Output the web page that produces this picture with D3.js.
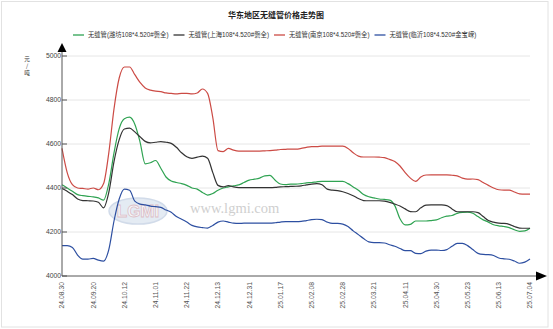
<!DOCTYPE html>
<html><head><meta charset="utf-8">
<script src="https://cdn.jsdelivr.net/npm/d3@7"></script>
<style>
html,body{margin:0;padding:0;background:#fff;}
svg{display:block;font-family:"Liberation Sans","Noto Sans CJK SC",sans-serif;}
</style></head>
<body><svg id="chart" width="553" height="329"></svg>
<script>
const title = "华东地区无缝管价格走势图";
const yLabel = ["元","/","吨"];
const tickLabels = ["24.08.30","24.09.20","24.10.12","24.11.01","24.11.22","24.12.13","24.12.31","25.01.17","25.02.08","25.02.28","25.03.21","25.04.11","25.04.30","25.05.23","25.06.13","25.07.04"];
const yTicks = [4000,4200,4400,4600,4800,5000];
const seriesNames = ["无缝管(潍坊108*4.520#磐全)","无缝管(上海108*4.520#磐全)","无缝管(南京108*4.520#磐全)","无缝管(临沂108*4.520#金宝嵘)"];
const seriesColors = ["#2fa352","#333333","#cc4b45","#2d4fa1"];

const weifang = [4415,4400,4385,4370,4365,4362,4360,4355,4345,4420,4560,4670,4715,4722,4690,4610,4510,4515,4525,4490,4450,4432,4425,4420,4412,4400,4395,4380,4368,4375,4390,4400,4405,4410,4414,4425,4436,4440,4445,4455,4457,4435,4418,4415,4418,4418,4420,4423,4425,4428,4430,4430,4430,4430,4430,4420,4405,4390,4370,4360,4355,4350,4348,4345,4320,4260,4232,4235,4250,4250,4250,4252,4255,4265,4272,4275,4285,4289,4290,4285,4270,4255,4245,4233,4228,4225,4220,4210,4203,4205,4217];
const shanghai = [4398,4385,4370,4350,4343,4342,4341,4335,4310,4380,4520,4620,4668,4672,4655,4633,4612,4605,4608,4611,4608,4603,4585,4560,4542,4535,4540,4545,4535,4470,4412,4405,4411,4405,4402,4402,4402,4402,4402,4402,4402,4403,4405,4406,4407,4408,4410,4414,4418,4420,4415,4395,4390,4388,4383,4375,4365,4352,4343,4342,4342,4342,4340,4335,4327,4318,4305,4293,4292,4310,4322,4323,4323,4323,4320,4305,4292,4292,4292,4292,4288,4270,4252,4245,4240,4239,4235,4225,4218,4217,4217];
const nanjing = [4580,4470,4415,4400,4398,4395,4400,4392,4420,4560,4760,4900,4950,4950,4915,4880,4855,4845,4840,4838,4832,4830,4828,4830,4830,4828,4832,4850,4830,4720,4570,4565,4580,4572,4568,4568,4568,4568,4568,4569,4570,4572,4575,4576,4577,4577,4580,4585,4588,4588,4590,4590,4590,4590,4590,4580,4560,4545,4541,4541,4541,4540,4538,4530,4520,4500,4470,4445,4430,4450,4459,4460,4460,4460,4460,4458,4455,4445,4440,4441,4438,4425,4412,4400,4392,4390,4390,4382,4373,4372,4372];
const linyi = [4138,4138,4130,4095,4077,4077,4080,4072,4068,4120,4250,4350,4395,4390,4340,4327,4323,4318,4315,4312,4300,4290,4270,4258,4245,4230,4223,4220,4218,4230,4245,4250,4245,4240,4239,4240,4240,4240,4240,4240,4240,4242,4245,4247,4247,4247,4248,4252,4256,4258,4256,4245,4239,4239,4236,4225,4205,4188,4170,4155,4152,4152,4150,4142,4135,4125,4115,4115,4103,4102,4113,4118,4118,4116,4120,4135,4148,4148,4138,4120,4103,4098,4097,4093,4082,4078,4076,4068,4058,4063,4077];
const allSeries = [weifang, shanghai, nanjing, linyi];
const pointsPerTick = 6;

const svg = d3.select("#chart");
const mLeft = 62, mRight = 530, mTop = 56, mBottom = 276;

// frame
svg.append("rect").attr("x",1.5).attr("y",1.5).attr("width",546.5).attr("height",325.5)
  .attr("fill","#fff").attr("stroke","#e2e2e2");

const x = d3.scaleLinear().domain([0, weifang.length-1]).range([mLeft, mRight]);
const y = d3.scaleLinear().domain([4000,5000]).range([mBottom, mTop]);

// grid
svg.append("g").selectAll("line").data(yTicks.filter(d=>d>4000)).join("line")
  .attr("x1",mLeft).attr("x2",mRight).attr("y1",d=>y(d)).attr("y2",d=>y(d))
  .attr("stroke","#e6e6e6").attr("stroke-width",1);

// watermark
const wm = svg.append("g").attr("opacity",0.6);
wm.append("ellipse").attr("cx",138).attr("cy",211).attr("rx",29).attr("ry",13)
  .attr("fill","#d3deec").attr("stroke","#b4c4dc").attr("stroke-width",1.5);
wm.append("text").attr("x",138).attr("y",217).attr("text-anchor","middle")
  .attr("font-family","Liberation Sans").attr("font-weight","bold").attr("font-size",17)
  .attr("fill","#eef2f8").attr("stroke","#c7939f").attr("stroke-width",0.8).text("LGMI");
svg.append("text").attr("x",190).attr("y",213).attr("font-family","Liberation Serif")
  .attr("font-size",14.5).attr("fill","#cfcfcf").text("www.lgmi.com");

// lines
const line = d3.line().x((d,i)=>x(i)).y(d=>y(d)).curve(d3.curveMonotoneX);
allSeries.forEach((s,k)=>{
  svg.append("path").datum(s).attr("d",line).attr("fill","none")
    .attr("stroke",seriesColors[k]).attr("stroke-width",1.2);
});

// axes
const axisColor = "#555";
svg.append("line").attr("x1",mLeft).attr("x2",mLeft).attr("y1",mBottom).attr("y2",46)
  .attr("stroke",axisColor).attr("stroke-width",1);
svg.append("path").attr("d",`M${mLeft},43 L${mLeft-4.5},52 L${mLeft+4.5},52 Z`).attr("fill","#000");
svg.append("line").attr("x1",mLeft).attr("x2",540).attr("y1",mBottom).attr("y2",mBottom)
  .attr("stroke",axisColor).attr("stroke-width",1);
svg.append("path").attr("d",`M547,${mBottom} L536,${mBottom-4.5} L536,${mBottom+4.5} Z`).attr("fill","#000");

const yAxis = svg.append("g");
yAxis.selectAll("line").data(yTicks).join("line")
  .attr("x1",mLeft).attr("x2",mLeft+5).attr("y1",d=>y(d)).attr("y2",d=>y(d))
  .attr("stroke",axisColor);
yAxis.selectAll("text").data(yTicks).join("text")
  .attr("x",mLeft-1).attr("y",d=>y(d)).attr("dy","0.35em").attr("text-anchor","end")
  .attr("font-size",6.8).attr("fill","#444").text(d=>d);

const xAxis = svg.append("g");
xAxis.selectAll("text").data(tickLabels).join("text")
  .attr("transform",(d,i)=>`translate(${x(i*pointsPerTick)},282) rotate(-90)`)
  .attr("dy","0.35em").attr("text-anchor","end")
  .attr("font-size",6.8).attr("fill","#555").text(d=>d);

// y label: stacked characters
svg.append("g").selectAll("text").data(yLabel).join("text")
  .attr("font-family","'Noto Sans CJK SC',sans-serif")
  .attr("font-size",5.6).attr("fill","#333").attr("text-anchor","middle")
  .attr("x",27).attr("y",(d,i)=>61+i*7.2).text(d=>d);

// title
svg.append("text").attr("x",276).attr("y",18).attr("text-anchor","middle")
  .attr("font-family","'Noto Sans CJK SC',sans-serif")
  .attr("font-size",8).attr("font-weight","bold").attr("fill","#222").text(title);

// legend
const leg = svg.append("g");
let lx = 73;
seriesNames.forEach((n,k)=>{
  leg.append("line").attr("x1",lx).attr("x2",lx+11).attr("y1",35).attr("y2",35)
    .attr("stroke",seriesColors[k]).attr("stroke-width",1.3);
  const t = leg.append("text").attr("x",lx+15).attr("y",35).attr("dy","0.35em")
    .attr("font-size",6.3).attr("fill","#333").text(n);
  lx = lx + 15 + t.node().getComputedTextLength() + 5;
});
</script></body></html>
